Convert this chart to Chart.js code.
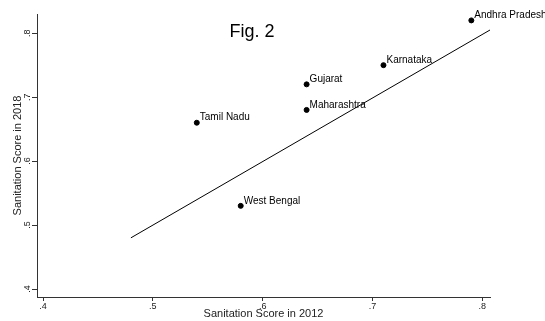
<!DOCTYPE html>
<html>
<head>
<meta charset="utf-8">
<script src="https://cdn.jsdelivr.net/npm/chart.js@4"></script>
<style>
  html, body { margin: 0; padding: 0; background: #fff; }
  #wrap { width: 545px; height: 321px; }
</style>
</head>
<body>
<div id="wrap"><canvas id="c"></canvas></div>
<script>
// states and their scores
const states = ['Andhra Pradesh', 'Karnataka', 'Gujarat', 'Maharashtra', 'Tamil Nadu', 'West Bengal'];
const score2012 = [0.79, 0.71, 0.64, 0.64, 0.54, 0.58];
const score2018 = [0.82, 0.75, 0.72, 0.68, 0.66, 0.53];
// reference line (45 degree)
const lineX = [0.48, 0.807];
const lineY = [0.48, 0.805];
const xTicks = [0.4, 0.5, 0.6, 0.7, 0.8];
const yTicks = [0.4, 0.5, 0.6, 0.7, 0.8];

const FONT = "'Liberation Sans', Arial, sans-serif";

function fmt(v) {
    return v.toFixed(1).replace(/^0/, '');
}

const pointLabels = {
    id: 'pointLabels',
    afterDatasetsDraw(chart) {
        const ctx = chart.ctx;
        const meta = chart.getDatasetMeta(0);
        const yScale = chart.scales.y;
        ctx.save();
        ctx.fillStyle = '#000';
        ctx.font = '10px ' + FONT;
        ctx.textBaseline = 'middle';
        ctx.textAlign = 'left';
        meta.data.forEach(function(pt, i) {
            ctx.fillText(states[i], pt.x + 3, pt.y - 5);
        });

        // rotated y tick labels
        ctx.fillStyle = '#222';
        ctx.font = '9px ' + FONT;
        ctx.textAlign = 'center';
        yTicks.forEach(function(v) {
            const py = yScale.getPixelForValue(v);
            ctx.save();
            ctx.translate(chart.chartArea.left - 9, py);
            ctx.rotate(-Math.PI / 2);
            ctx.fillText(fmt(v), 0, 0);
            ctx.restore();
        });

        ctx.fillStyle = '#000';
        ctx.font = '18px ' + FONT;
        ctx.fillText('Fig. 2', 252, 32);
        ctx.restore();
    }
};

const axisCommon = {
    type: 'linear',
    border: { display: true, color: '#333', width: 1 },
    grid: { display: true, drawOnChartArea: false, drawTicks: true, tickLength: 5, color: '#333' },
    title: { display: true, color: '#222', font: { size: 11, family: FONT }, padding: 0 }
};

new Chart(document.getElementById('c'), {
    type: 'scatter',
    data: {
        datasets: [{
            label: 'States',
            data: states.map(function(s, i) { return { x: score2012[i], y: score2018[i] }; }),
            backgroundColor: '#000',
            borderColor: '#000',
            pointRadius: 2.5,
            pointHoverRadius: 2.5
        }, {
            type: 'line',
            label: 'Line',
            data: lineX.map(function(x, i) { return { x: x, y: lineY[i] }; }),
            borderColor: '#000',
            borderWidth: 1,
            pointRadius: 0,
            fill: false
        }]
    },
    options: {
        responsive: true,
        maintainAspectRatio: false,
        animation: false,
        layout: { padding: { top: 14, right: 55, left: 11, bottom: 0 } },
        plugins: {
            legend: { display: false },
            tooltip: { enabled: false }
        },
        scales: {
            x: Object.assign({}, axisCommon, {
                min: 0.3945,
                max: 0.807,
                afterBuildTicks: function(axis) { axis.ticks = xTicks.map(function(v) { return { value: v }; }); },
                afterFit: function(axis) { axis.height = 24; },
                grid: Object.assign({}, axisCommon.grid, { tickLength: 4 }),
                ticks: { color: '#222', font: { size: 9, family: FONT }, padding: 0, maxRotation: 0, callback: fmt },
                title: Object.assign({}, axisCommon.title, { text: 'Sanitation Score in 2012' })
            }),
            y: Object.assign({}, axisCommon, {
                min: 0.3875,
                max: 0.83,
                afterBuildTicks: function(axis) { axis.ticks = yTicks.map(function(v) { return { value: v }; }); },
                afterFit: function(axis) { axis.width = 26; },
                ticks: { display: false },
                title: Object.assign({}, axisCommon.title, { text: 'Sanitation Score in 2018' })
            })
        }
    },
    plugins: [pointLabels]
});
</script>
</body>
</html>
